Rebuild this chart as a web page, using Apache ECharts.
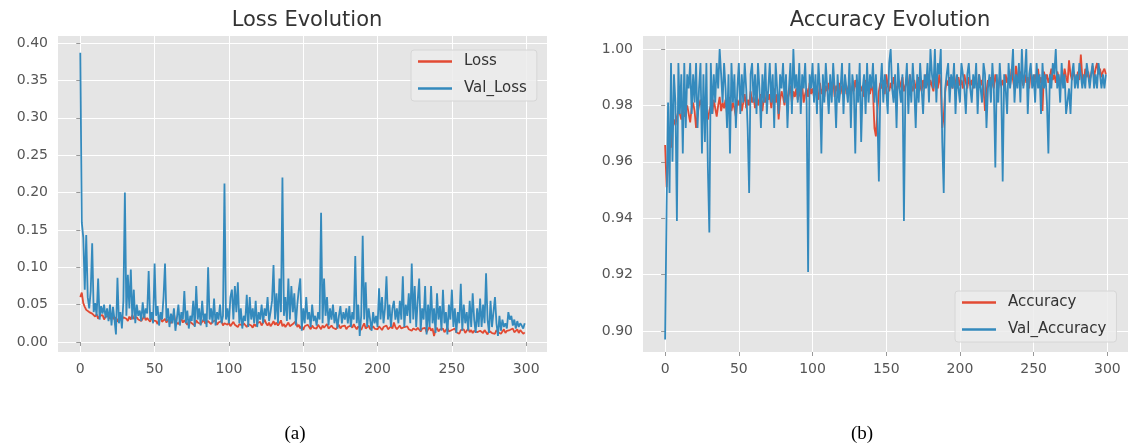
<!DOCTYPE html>
<html>
<head>
<meta charset="utf-8">
<script src="https://cdn.jsdelivr.net/npm/echarts@6/dist/echarts.min.js"></script>
<style>html,body{margin:0;padding:0;background:#fff;}#c{width:1130px;height:448px;}</style>
</head>
<body>
<div id="c"></div>
<script>
const lossTicks = [0, 0.05, 0.10, 0.15, 0.20, 0.25, 0.30, 0.35, 0.40];
const accTicks = [0.90, 0.92, 0.94, 0.96, 0.98, 1.00];
const epochTicks = [0, 50, 100, 150, 200, 250, 300];
const titles = ['Loss Evolution', 'Accuracy Evolution'];
const captions = ['(a)', '(b)'];

const loss = [
0.060,0.066,0.052,0.047,0.043,0.045,0.040,0.042,0.038,0.036,
0.034,0.037,0.031,0.035,0.033,0.036,0.030,0.034,0.032,0.035,
0.031,0.029,0.034,0.030,0.033,0.027,0.032,0.036,0.030,0.033,
0.035,0.031,0.028,0.034,0.030,0.036,0.031,0.029,0.033,0.030,
0.032,0.028,0.031,0.035,0.029,0.032,0.030,0.027,0.033,0.029,
0.031,0.028,0.024,0.030,0.033,0.027,0.029,0.031,0.026,0.030,
0.028,0.025,0.031,0.038,0.027,0.029,0.024,0.028,0.031,0.026,
0.029,0.027,0.023,0.028,0.030,0.025,0.027,0.022,0.029,0.026,
0.028,0.024,0.027,0.030,0.025,0.023,0.028,0.026,0.024,0.027,
0.025,0.029,0.023,0.026,0.024,0.028,0.022,0.025,0.027,0.023,
0.026,0.021,0.024,0.027,0.023,0.025,0.020,0.024,0.026,0.022,
0.025,0.023,0.020,0.024,0.026,0.022,0.019,0.024,0.021,0.025,
0.023,0.027,0.022,0.024,0.030,0.025,0.022,0.026,0.021,0.024,
0.028,0.023,0.026,0.022,0.025,0.029,0.021,0.024,0.020,0.023,
0.026,0.021,0.019,0.024,0.022,0.028,0.020,0.023,0.018,0.022,
0.016,0.021,0.019,0.023,0.020,0.017,0.022,0.019,0.021,0.018,
0.023,0.020,0.017,0.022,0.019,0.021,0.024,0.018,0.020,0.022,
0.019,0.021,0.017,0.020,0.023,0.018,0.021,0.019,0.022,0.017,
0.020,0.018,0.022,0.019,0.024,0.020,0.017,0.021,0.019,0.016,
0.021,0.025,0.018,0.020,0.022,0.017,0.019,0.021,0.018,0.020,
0.017,0.021,0.019,0.016,0.020,0.018,0.022,0.017,0.019,0.021,
0.018,0.026,0.020,0.017,0.019,0.022,0.018,0.016,0.020,0.018,
0.021,0.017,0.019,0.015,0.018,0.020,0.016,0.019,0.017,0.014,
0.018,0.016,0.019,0.013,0.017,0.020,0.015,0.018,0.008,0.016,
0.019,0.014,0.017,0.015,0.018,0.013,0.016,0.019,0.014,0.012,
0.016,0.014,0.018,0.013,0.015,0.011,0.016,0.014,0.017,0.012,
0.015,0.018,0.013,0.016,0.012,0.015,0.017,0.013,0.011,0.015,
0.014,0.012,0.016,0.013,0.010,0.015,0.017,0.012,0.014,0.011,
0.016,0.013,0.015,0.011,0.014,0.017,0.012,0.015,0.013,0.016,
0.014,0.018,0.013,0.015,0.017,0.012,0.016,0.014,0.011,0.013
];

const valLoss = [
0.387,0.160,0.140,0.070,0.143,0.060,0.045,0.068,0.132,0.040,
0.052,0.035,0.085,0.030,0.048,0.038,0.050,0.032,0.045,0.028,
0.050,0.022,0.047,0.030,0.010,0.086,0.025,0.040,0.018,0.055,
0.200,0.035,0.090,0.045,0.097,0.030,0.070,0.025,0.050,0.035,
0.042,0.028,0.053,0.032,0.045,0.038,0.095,0.030,0.040,0.025,
0.105,0.035,0.048,0.022,0.040,0.030,0.060,0.105,0.028,0.045,
0.020,0.038,0.025,0.045,0.015,0.032,0.050,0.022,0.040,0.030,
0.068,0.025,0.042,0.018,0.035,0.028,0.055,0.020,0.075,0.030,
0.045,0.022,0.055,0.028,0.038,0.020,0.100,0.030,0.045,0.025,
0.058,0.022,0.040,0.030,0.050,0.025,0.035,0.212,0.030,0.045,
0.025,0.060,0.070,0.030,0.075,0.040,0.080,0.025,0.045,0.018,
0.035,0.028,0.063,0.020,0.060,0.030,0.045,0.025,0.055,0.020,
0.040,0.030,0.050,0.025,0.045,0.035,0.060,0.028,0.040,0.055,
0.103,0.030,0.065,0.025,0.085,0.040,0.220,0.035,0.060,0.028,
0.085,0.030,0.075,0.040,0.065,0.022,0.050,0.070,0.085,0.015,
0.045,0.025,0.060,0.030,0.040,0.020,0.050,0.028,0.035,0.022,
0.040,0.030,0.173,0.025,0.085,0.035,0.060,0.022,0.045,0.030,
0.050,0.025,0.040,0.018,0.035,0.048,0.025,0.040,0.030,0.045,
0.025,0.048,0.020,0.040,0.030,0.115,0.025,0.050,0.008,0.035,
0.142,0.030,0.080,0.020,0.045,0.030,0.015,0.040,0.025,0.035,
0.020,0.072,0.030,0.060,0.025,0.045,0.088,0.030,0.050,0.020,
0.045,0.055,0.030,0.045,0.025,0.055,0.030,0.088,0.020,0.050,
0.035,0.065,0.025,0.105,0.030,0.075,0.020,0.055,0.085,0.015,
0.045,0.030,0.075,0.010,0.050,0.020,0.075,0.025,0.045,0.012,
0.065,0.030,0.048,0.015,0.070,0.025,0.040,0.010,0.050,0.030,
0.070,0.020,0.045,0.012,0.040,0.025,0.078,0.015,0.050,0.025,
0.040,0.015,0.055,0.020,0.065,0.030,0.012,0.045,0.020,0.058,
0.020,0.050,0.025,0.092,0.030,0.012,0.055,0.020,0.040,0.060,
0.025,0.008,0.035,0.015,0.030,0.020,0.025,0.018,0.040,0.030,
0.035,0.022,0.030,0.018,0.028,0.020,0.025,0.022,0.018,0.025
];

const accuracy = [
0.966,0.951,0.960,0.968,0.965,0.972,0.975,0.973,0.976,0.978,
0.977,0.975,0.979,0.976,0.978,0.980,0.977,0.974,0.979,0.981,
0.978,0.972,0.977,0.980,0.982,0.979,0.976,0.981,0.978,0.975,
0.978,0.980,0.977,0.982,0.979,0.976,0.980,0.983,0.978,0.981,
0.979,0.982,0.977,0.980,0.983,0.978,0.981,0.979,0.976,0.982,
0.980,0.983,0.978,0.981,0.984,0.979,0.982,0.980,0.985,0.981,
0.983,0.979,0.986,0.980,0.982,0.984,0.978,0.983,0.981,0.985,
0.982,0.984,0.979,0.983,0.986,0.981,0.984,0.975,0.982,0.985,
0.983,0.980,0.986,0.982,0.984,0.987,0.981,0.985,0.983,0.986,
0.982,0.985,0.983,0.987,0.981,0.984,0.986,0.983,0.988,0.984,
0.986,0.983,0.987,0.985,0.982,0.988,0.984,0.986,0.983,0.987,
0.985,0.988,0.984,0.986,0.989,0.983,0.987,0.985,0.988,0.984,
0.987,0.985,0.989,0.984,0.986,0.988,0.983,0.987,0.985,0.989,
0.986,0.984,0.988,0.985,0.987,0.983,0.989,0.986,0.988,0.984,
0.987,0.985,0.972,0.969,0.978,0.985,0.988,0.986,0.989,0.984,
0.991,0.987,0.985,0.988,0.986,0.990,0.987,0.985,0.989,0.986,
0.988,0.990,0.985,0.987,0.989,0.986,0.991,0.987,0.985,0.989,
0.986,0.988,0.990,0.987,0.985,0.989,0.986,0.991,0.988,0.986,
0.989,0.987,0.985,0.990,0.988,0.986,0.991,0.987,0.972,0.976,
0.985,0.989,0.987,0.990,0.988,0.986,0.991,0.988,0.986,0.990,
0.987,0.989,0.986,0.991,0.988,0.986,0.990,0.987,0.989,0.986,
0.990,0.988,0.986,0.991,0.987,0.989,0.986,0.978,0.985,0.989,
0.987,0.990,0.988,0.986,0.991,0.988,0.986,0.990,0.987,0.989,
0.986,0.991,0.988,0.990,0.987,0.993,0.989,0.986,0.994,0.990,
0.988,0.992,0.989,0.987,0.991,0.988,0.990,0.986,0.992,0.989,
0.987,0.991,0.989,0.993,0.988,0.990,0.978,0.992,0.989,0.991,
0.988,0.990,0.993,0.989,0.991,0.988,0.992,0.990,0.987,0.991,
0.989,0.993,0.990,0.988,0.996,0.991,0.989,0.992,0.990,0.988,
0.992,0.989,0.998,0.990,0.988,0.993,0.990,0.992,0.989,0.991,
0.994,0.990,0.993,0.995,0.991,0.993,0.990,0.992,0.993,0.991
];

const valAccuracy = [
0.897,0.944,0.981,0.949,0.995,0.960,0.991,0.981,0.939,0.995,
0.977,0.991,0.963,0.995,0.972,0.991,0.986,0.995,0.977,0.991,
0.981,0.995,0.972,0.986,0.995,0.963,0.991,0.967,0.995,0.958,
0.935,0.995,0.977,0.991,0.981,0.995,0.986,1.000,0.991,0.981,
0.995,0.986,0.972,0.991,0.963,0.995,0.981,0.991,0.972,0.986,
0.995,0.977,0.991,0.981,0.995,0.986,0.972,0.949,0.991,0.995,
0.981,0.991,0.977,0.995,0.986,0.972,0.991,0.981,0.995,0.977,
0.986,0.995,0.981,0.991,0.972,0.995,0.986,0.977,0.991,0.986,
0.995,0.981,0.991,0.972,0.986,0.995,0.977,1.000,0.986,0.991,
0.981,0.995,0.977,0.991,0.986,0.995,0.981,0.921,0.991,0.986,
0.995,0.981,0.991,0.977,0.995,0.986,0.963,0.991,0.981,0.995,
0.986,0.977,0.991,0.981,0.995,0.986,0.972,0.991,0.981,0.986,
0.995,0.977,0.991,0.986,0.981,0.995,0.972,0.991,0.986,0.963,
0.991,0.981,0.995,0.967,0.986,0.991,0.977,0.995,0.981,0.991,
0.986,0.995,0.981,0.991,0.977,0.953,0.986,0.995,0.981,0.991,
0.986,0.977,0.995,1.000,0.986,0.981,0.991,0.972,0.995,0.986,
0.981,0.991,0.939,0.986,0.995,0.977,0.991,0.981,0.995,0.986,
0.972,0.991,0.981,0.995,0.986,0.977,0.991,0.986,0.995,0.981,
1.000,0.991,0.986,1.000,0.981,0.995,0.991,1.000,0.967,0.949,
0.986,0.991,0.995,0.981,0.991,0.986,0.995,0.977,0.991,0.986,
0.981,0.995,0.991,0.986,0.977,0.991,0.995,0.986,0.981,0.991,
0.986,0.995,0.977,0.991,0.986,0.981,0.995,0.991,0.972,0.986,
0.991,0.981,0.995,0.986,0.958,0.991,0.981,0.995,0.986,0.953,
0.991,0.986,0.977,0.995,0.986,0.991,1.000,0.981,0.991,0.986,
0.995,0.981,1.000,0.986,0.991,1.000,0.977,0.991,0.995,0.986,
0.991,0.981,0.995,0.986,0.991,0.977,0.995,0.986,0.991,0.981,
0.963,0.991,0.986,0.995,0.991,1.000,0.986,0.991,0.981,0.995,
0.986,0.991,0.977,0.977,0.986,0.977,0.991,0.995,0.986,0.991,
0.986,0.995,0.991,0.986,0.991,0.986,0.995,0.991,0.986,0.991,
0.995,0.986,0.991,0.986,0.995,0.991,0.986,0.991,0.986,0.991
];

const RED = '#E24A33', BLUE = '#348ABD';
const pairs = arr => arr.map((v, i) => [i, v]);
const FONT = 'DejaVu Sans';

function xAxisCfg(gi) {
  return {
    type: 'value', gridIndex: gi, min: -15, max: 314,
    axisLine: { show: false },
    axisTick: { show: true, customValues: epochTicks, length: 4, lineStyle: { color: '#999' } },
    axisLabel: { customValues: epochTicks, color: '#555', fontSize: 14, fontFamily: FONT, margin: 10 },
    splitLine: { show: true, lineStyle: { color: '#fff', width: 1 } }
  };
}
function yAxisCfg(gi, min, max, ticks) {
  return {
    type: 'value', gridIndex: gi, min: min, max: max,
    axisLine: { show: false },
    axisTick: { show: true, customValues: ticks, length: 4, lineStyle: { color: '#999' } },
    axisLabel: { customValues: ticks, color: '#555', fontSize: 14, fontFamily: FONT, margin: 10,
      formatter: v => v.toFixed(2) },
    splitLine: { show: true, lineStyle: { color: '#fff', width: 1 } }
  };
}
function lineSeries(name, data, color, xi) {
  return {
    name: name, type: 'line', xAxisIndex: xi, yAxisIndex: xi, data: pairs(data),
    symbol: 'none', animation: false,
    lineStyle: { color: color, width: 1.8 }, itemStyle: { color: color }
  };
}
function legendCfg(names, left, top) {
  return {
    data: names, left: left, top: top, orient: 'vertical',
    icon: 'path://M0,0 L34,0 L34,2.6 L0,2.6 Z',
    itemWidth: 34, itemHeight: 14, itemGap: 12,
    padding: [4, 10, 5, 7],
    backgroundColor: 'rgba(236,236,236,0.85)', borderColor: '#d6d6d6', borderWidth: 1, borderRadius: 3,
    textStyle: { color: '#333', fontSize: 15, fontFamily: FONT, padding: [0, 0, 0, 7] }
  };
}

const chart = echarts.init(document.getElementById('c'), null, { renderer: 'canvas' });
chart.setOption({
  backgroundColor: '#fff',
  animation: false,
  title: [
    { text: titles[0], left: 302, top: 5, textAlign: 'center', textStyle: { fontFamily: FONT, fontSize: 21, fontWeight: 'normal', color: '#333' } },
    { text: titles[1], left: 885, top: 5, textAlign: 'center', textStyle: { fontFamily: FONT, fontSize: 21, fontWeight: 'normal', color: '#333' } },
    { text: captions[0], left: 290, top: 420, textAlign: 'center', textStyle: { fontFamily: 'Liberation Serif', fontSize: 19, fontWeight: 'normal', color: '#000' } },
    { text: captions[1], left: 857, top: 420, textAlign: 'center', textStyle: { fontFamily: 'Liberation Serif', fontSize: 19, fontWeight: 'normal', color: '#000' } }
  ],
  grid: [
    { left: 58, top: 36, width: 489, height: 316, show: true, backgroundColor: '#E5E5E5', borderWidth: 0 },
    { left: 643, top: 36, width: 485, height: 316, show: true, backgroundColor: '#E5E5E5', borderWidth: 0 }
  ],
  legend: [
    legendCfg(['Loss', 'Val_Loss'], 411, 50),
    legendCfg(['Accuracy', 'Val_Accuracy'], 955, 291)
  ],
  xAxis: [xAxisCfg(0), xAxisCfg(1)],
  yAxis: [yAxisCfg(0, -0.0134, 0.4094, lossTicks), yAxisCfg(1, 0.8926, 1.0046, accTicks)],
  series: [
    lineSeries('Loss', loss, RED, 0),
    lineSeries('Val_Loss', valLoss, BLUE, 0),
    lineSeries('Accuracy', accuracy, RED, 1),
    lineSeries('Val_Accuracy', valAccuracy, BLUE, 1)
  ]
});
</script>
</body>
</html>
